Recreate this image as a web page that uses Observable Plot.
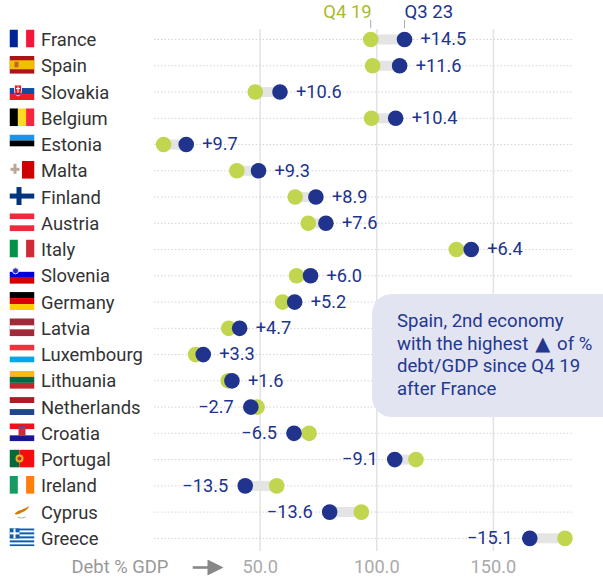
<!DOCTYPE html>
<html>
<head>
<meta charset="utf-8">
<script src="https://cdn.jsdelivr.net/npm/d3@7"></script>
<script src="https://cdn.jsdelivr.net/npm/@observablehq/plot@0.6"></script>
<style>
  html, body { margin: 0; padding: 0; background: #fff; }
  #wrap { position: relative; width: 603px; height: 577px; overflow: hidden; font-family: Roboto, sans-serif; }
  #note { position: absolute; left: 372px; top: 294px; width: 231px; height: 123px; box-sizing: border-box;
          padding: 16px 0 0 25px; background: #e2e5f1; border-radius: 20px 0 0 20px;
          color: #24388f; font-size: 18.600px; line-height: 22.700px; white-space: nowrap; }
  #note span { font-family: "DejaVu Sans", sans-serif; font-size: 19.500px; line-height: 0; margin: 0 2.300px; }
  svg { display: block; }
</style>
</head>
<body>
<div id="wrap">
  <div id="chart"></div>
  <div id="note">Spain, 2nd economy<br>with the highest <span>▲</span> of %<br>debt/GDP since Q4 19<br>after France</div>
</div>
<script>
const countries = ["France","Spain","Slovakia","Belgium","Estonia","Malta","Finland","Austria","Italy","Slovenia","Germany","Latvia","Luxembourg","Lithuania","Netherlands","Croatia","Portugal","Ireland","Cyprus","Greece"];
const q419 = [97.4,98.2,47.9,97.7,8.6,40.0,65.0,70.6,134.1,65.6,59.6,36.5,22.3,36.3,48.7,71.0,116.8,57.1,93.4,180.7];
const q323 = [111.9,109.8,58.5,108.1,18.3,49.3,73.9,78.2,140.5,71.6,64.8,41.2,25.6,37.9,46.0,64.5,107.7,43.6,79.8,165.6];
const changes = [14.5,11.6,10.6,10.4,9.7,9.3,8.9,7.6,6.4,6.0,5.2,4.7,3.3,1.6,-2.7,-6.5,-9.1,-13.5,-13.6,-15.1];
const xTicks = [50,100,150];

const r = (x,y,w,h,f) => `<rect x="${x}" y="${y}" width="${w}" height="${h}" fill="${f}"/>`;
const v3 = (a,b,c) => r(0,0,8.4,18,a)+r(8.4,0,8.2,18,b)+r(16.6,0,8.4,18,c);
const h3 = (a,b,c) => r(0,0,25,6,a)+r(0,6,25,6,b)+r(0,12,25,6,c);
const greece = () => { let s = r(0,0,25,18,"#fff"); for (let i=0;i<5;i++) s += r(0,i*4,25,2,"#0d5eaf"); return s + r(0,0,10,10,"#0d5eaf")+r(4,0,2,10,"#fff")+r(0,4,10,2,"#fff"); };
const flagArt = {
  France: v3("#002395","#fff","#f5163b"),
  Spain: r(0,0,25,18,"#aa151b")+r(0,4.5,25,9,"#f1bf00")+r(5,6,4,5.5,"#c0613a"),
  Slovakia: h3("#fff","#0b4ea2","#ee1c25")+`<path d="M5 3h7v6q0 4-3.500 5q-3.500-1-3.500-5z" fill="#ee1c25" stroke="#fff" stroke-width="0.8"/>`+r(7.9,4.500,1.200,6,"#fff")+r(6.500,6,4,1,"#fff")+r(5.500,11,6,1.500,"#0b4ea2"),
  Belgium: v3("#000","#fdda24","#f5273f"),
  Estonia: h3("#1a93e8","#000","#fff"),
  Malta: r(0,0,25,18,"#fff")+r(12.500,0,12.500,18,"#cf0000")+r(1,7,9,3,"#b8a898")+r(4,3,3,10,"#b8a898"),
  Finland: r(0,0,25,18,"#fff")+r(0,6.500,25,5,"#003580")+r(7,0,5,18,"#003580"),
  Austria: h3("#f02a3c","#fff","#f02a3c"),
  Italy: v3("#009246","#fff","#ce2b37"),
  Slovenia: h3("#fff","#0000d6","#d60000")+`<circle cx="6" cy="5" r="3" fill="#2b2fc0" stroke="#e8e8ff"/>`,
  Germany: h3("#000","#dd0000","#ffce00"),
  Latvia: r(0,0,25,18,"#9e2a3a")+r(0,7,25,4,"#fff"),
  Luxembourg: h3("#f0313f","#fff","#00a9e6"),
  Lithuania: h3("#fdb913","#006a44","#c1272d"),
  Netherlands: h3("#ae1c28","#fff","#21468b"),
  Croatia: h3("#f0101c","#fff","#171796")+r(9,4,7,8.500,"#c5303c")+r(9,3,7,2,"#3a5ba8"),
  Portugal: r(0,0,10,18,"#046a38")+r(10,0,15,18,"#f50d0d")+`<circle cx="10" cy="9" r="4" fill="#e8b020"/><circle cx="10" cy="9" r="2" fill="#c03030"/>`,
  Ireland: v3("#169b62","#fff","#ff7f0a"),
  Cyprus: r(0,0,25,18,"#fff")+`<path d="M5 12c3-4 8-4 11-6l4-2c-2 3-4 5-7 6c-3 2-6 3-8 2z" fill="#d57800"/><path d="M8 15q4 2 8 0" stroke="#a8b8a0" fill="none"/>`,
  Greece: greece()
};
const uri = (body, vb="0 0 25 18") => "data:image/svg+xml," + encodeURIComponent(`<svg xmlns="http://www.w3.org/2000/svg" viewBox="${vb}" preserveAspectRatio="none">${body}</svg>`);
const fmtChange = d => (d > 0 ? "+" : "\u2212") + Math.abs(d).toFixed(1);

const rows = countries.map((country,i) => ({country, q419:q419[i], q323:q323[i], change:changes[i], label:fmtChange(changes[i]), flag:uri(flagArt[country])}));
const first = rows.slice(0,1);

const navy = "#20338d", green = "#c1d64e";
const marginLeft = 154, xMin = 4.7, xMax = 184.3;

const plot = Plot.plot({
  width: 603, height: 577,
  marginLeft, marginRight: 30.100, marginTop: 25.900, marginBottom: 26,
  style: {fontFamily: "Roboto, sans-serif", background: "transparent", overflow: "visible"},
  x: {domain: [xMin, xMax], axis: null},
  y: {domain: countries, padding: 0, round: false, axis: null},
  marks: [
    Plot.gridX(xTicks, {stroke: "#e3e3e3", strokeOpacity: 1, strokeWidth: 1.500, insetTop: 3}),
    Plot.ruleY(rows, {y: "country", x1: xMin, x2: xMax, stroke: "#d4d4d4", strokeWidth: 1, strokeDasharray: "1.500 2"}),
    Plot.image(rows, {y: "country", src: "flag", frameAnchor: "left", dx: 21.500 - marginLeft, dy: -1, width: 25, height: 18, preserveAspectRatio: "none"}),
    Plot.text(rows, {y: "country", text: "country", frameAnchor: "left", dx: 40.500 - marginLeft, dy: 0.700, textAnchor: "start", fontSize: 18.400, fill: "#333"}),
    Plot.link(rows, {x1: "q419", x2: "q323", y: "country", stroke: "#e4e4e4", strokeWidth: 10}),
    Plot.dot(rows, {x: "q419", y: "country", r: 7.800, fill: green}),
    Plot.dot(rows, {x: "q323", y: "country", r: 7.800, fill: navy}),
    Plot.text(rows.filter(d => d.change > 0), {x: "q323", y: "country", text: "label", fill: navy, fontSize: 18.200, textAnchor: "start", dx: 16}),
    Plot.text(rows.filter(d => d.change < 0), {x: "q323", y: "country", text: "label", fill: navy, fontSize: 18.200, textAnchor: "end", dx: -17}),
    Plot.tickX(first, {x: "q419", y: "country", stroke: "#aaa", strokeWidth: 1, dy: -6, insetBottom: 18}),
    Plot.tickX(first, {x: "q323", y: "country", stroke: "#aaa", strokeWidth: 1, dy: -6, insetBottom: 18}),
    Plot.text(first, {x: "q419", y: "country", text: () => "Q4 19", fill: "#aabb2e", fontSize: 18.500, textAnchor: "end", dy: -27, dx: 1}),
    Plot.text(first, {x: "q323", y: "country", text: () => "Q3 23", fill: navy, fontSize: 18.500, textAnchor: "start", dy: -27, dx: 0}),
    Plot.axisX(xTicks, {anchor: "bottom", tickSize: 0, tickPadding: 9, tickFormat: ".1f", fontSize: 18.200, fill: "#aaa", label: null}),
    Plot.text(["Debt % GDP"], {text: d => d, frameAnchor: "bottom-left", dx: 71 - marginLeft, dy: 16, textAnchor: "start", fontSize: 18.400, fill: "#999", lineAnchor: "middle"}),
    Plot.image(["arrow"], {src: () => uri(`<path d="M15 0L31 8L15 16z" fill="#888"/><rect x="0" y="6.700" width="20" height="2.600" fill="#888"/>`, "0 0 31 16"), frameAnchor: "bottom-left", dx: 207.500 - marginLeft, dy: 16, width: 31, height: 16})
  ]
});
document.getElementById("chart").appendChild(plot);
</script>
</body>
</html>
